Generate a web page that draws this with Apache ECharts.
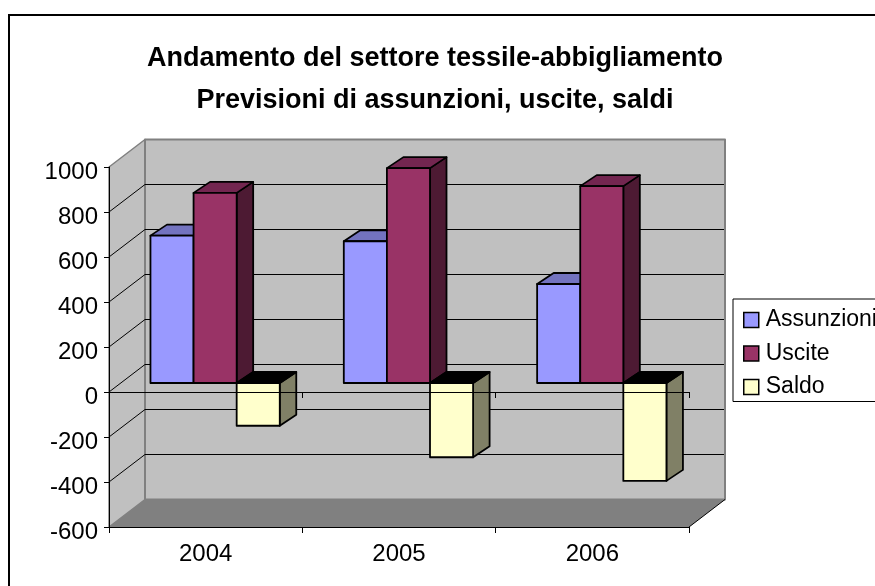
<!DOCTYPE html>
<html>
<head>
<meta charset="utf-8">
<title>Andamento del settore tessile-abbigliamento</title>
<script src="https://cdn.jsdelivr.net/npm/echarts@6/dist/echarts.min.js"></script>
<style>
	html, body { margin: 0; padding: 0; background: #fff; overflow: hidden; }
	#chart { width: 875px; height: 586px; }
</style>
</head>
<body>
<div id="chart"></div>
<script>
var categories = ['2004', '2005', '2006'];
var seriesNames = ['Assunzioni', 'Uscite', 'Saldo'];
var assunzioni = [655, 630, 440];
var uscite = [845, 955, 875];
var saldo = [-190, -330, -435];
var yTicks = [-600, -400, -200, 0, 200, 400, 600, 800, 1000];

var FONT = '"Liberation Sans", Arial, sans-serif';

// 3D look: offsets of the back wall and of the bars from the axis plane
var WALL_DX = 36, WALL_DY = -27.5;
var BAR_DY = -9, BAR_DEPTH_X = 16.5, BAR_DEPTH_Y = -11;
var BAR_W = 43.1, BAR_SHIFT = -55.2;

function poly(points, fill, stroke, lineWidth) {
	return {
		type: 'polygon',
		shape: { points: points },
		style: { fill: fill, stroke: stroke || 'none', lineWidth: lineWidth || 0, lineJoin: 'round' }
	};
}

function line(a, b, color, width) {
	return {
		type: 'line',
		shape: { x1: a[0], y1: a[1], x2: b[0], y2: b[1] },
		style: { stroke: color, lineWidth: width }
	};
}

function renderWalls(params, api) {
	var cs = params.coordSys;
	var x0 = cs.x, x1 = cs.x + cs.width, top = cs.y, bottom = cs.y + cs.height;
	var dx = WALL_DX, dy = WALL_DY;
	return {
		type: 'group',
		children: [
			poly([[x0, top], [x0 + dx, top + dy], [x0 + dx, bottom + dy], [x0, bottom]], '#c0c0c0', '#808080', 1.5),
			poly([[x0 + dx, top + dy], [x1 + dx, top + dy], [x1 + dx, bottom + dy], [x0 + dx, bottom + dy]], '#c0c0c0', '#808080', 2),
			poly([[x0, bottom], [x0 + dx, bottom + dy], [x1 + dx, bottom + dy], [x1, bottom]], '#808080'),
			line([x1, bottom], [x1 + dx, bottom + dy], '#000', 1)
		]
	};
}

function renderGrid(params, api) {
	var cs = params.coordSys;
	var v = api.value(0);
	var y = api.coord([0, v])[1];
	var x0 = cs.x, x1 = cs.x + cs.width;
	var back = y + WALL_DY;
	var kids = [];
	// top and bottom ticks have only the wall edge, no black line
	if (v > -600 && v < 1000) {
		kids.push(line([x0 + WALL_DX, back], [x1 + WALL_DX - 1, back], '#000', 1));
		kids.push(line([x0, y], [x0 + WALL_DX, back], '#000', 1));
	}
	return { type: 'group', children: kids };
}

function makeBarRenderer(index, faces) {
	return function (params, api) {
		var cat = api.value(0);
		var val = api.value(1);
		var center = api.coord([cat, 0])[0];
		var zero = api.coord([cat, 0])[1] + BAR_DY;
		var end = api.coord([cat, val])[1] + BAR_DY;
		var x = center + BAR_SHIFT + index * BAR_W;
		var w = BAR_W;
		var t = Math.min(zero, end), b = Math.max(zero, end);
		var dx = BAR_DEPTH_X, dy = BAR_DEPTH_Y;
		return {
			type: 'group',
			children: [
				poly([[x + w, t], [x + w + dx, t + dy], [x + w + dx, b + dy], [x + w, b]], faces.side, '#000', 1.8),
				poly([[x, t], [x + dx, t + dy], [x + w + dx, t + dy], [x + w, t]], faces.top, '#000', 1.8),
				poly([[x, t], [x + w, t], [x + w, b], [x, b]], faces.front, '#000', 1.8)
			]
		};
	};
}

function barData(values) {
	return values.map(function (v, i) { return [i, v]; });
}

var faces = [
	{ front: '#9999ff', top: '#7373bf', side: '#5c5c99' },
	{ front: '#993366', top: '#732650', side: '#4d1a33' },
	{ front: '#ffffcc', top: '#000000', side: '#808066' }
];
var values = [assunzioni, uscite, saldo];

var series = [
	{ type: 'custom', name: 'walls', z: 1, silent: true, data: [[0, 0]], renderItem: renderWalls, clip: false },
	{
		type: 'custom', name: 'grid3d', z: 2, silent: true, clip: false,
		data: yTicks.map(function (v) { return [v]; }),
		encode: { y: 0 },
		renderItem: renderGrid
	}
];
seriesNames.forEach(function (name, i) {
	series.push({
		type: 'custom',
		name: name,
		z: 3 + i,
		silent: true,
		clip: false,
		itemStyle: { color: faces[i].front },
		data: barData(values[i]),
		encode: { x: 0, y: 1 },
		renderItem: makeBarRenderer(i, faces[i])
	});
});

var chart = echarts.init(document.getElementById('chart'), null, { renderer: 'canvas' });
chart.setOption({
	animation: false,
	backgroundColor: '#fff',
	graphic: [{
		type: 'rect',
		z: -10,
		shape: { x: 9, y: 15, width: 900, height: 620 },
		style: { fill: '#fff', stroke: '#000', lineWidth: 2 }
	}],
	title: {
		text: 'Andamento del settore tessile-abbigliamento\nPrevisioni di assunzioni, uscite, saldi',
		left: 430,
		top: 33,
		textAlign: 'center',
		textStyle: { fontFamily: FONT, fontSize: 27, fontWeight: 'bold', color: '#000', lineHeight: 42, align: 'center' }
	},
	legend: {
		data: seriesNames,
		orient: 'vertical',
		left: 733,
		top: 299,
		padding: [9.5, 20, 3, 10],
		itemWidth: 15,
		itemHeight: 15,
		itemGap: 10.5,
		icon: 'rect',
		backgroundColor: '#fff',
		borderColor: '#000',
		borderWidth: 1,
		selectedMode: false,
		itemStyle: { borderColor: '#000', borderWidth: 1.5 },
		textStyle: { fontFamily: FONT, fontSize: 23, color: '#000', padding: [0, 0, 0, 2] }
	},
	grid: { left: 109, right: 186, top: 167, bottom: 59, containLabel: false },
	xAxis: [{
		type: 'category',
		data: categories,
		position: 'bottom',
		z: 20,
		axisLine: { onZero: true, lineStyle: { color: '#000', width: 1 } },
		axisTick: { show: true, length: 6, lineStyle: { color: '#000', width: 1 } },
		axisLabel: { show: false },
		splitLine: { show: false }
	}, {
		type: 'category',
		data: categories,
		position: 'bottom',
		z: 20,
		axisLine: { onZero: false, lineStyle: { color: '#000', width: 1 } },
		axisTick: { show: true, length: 6, lineStyle: { color: '#000', width: 1 } },
		axisLabel: { show: true, color: '#000', fontFamily: FONT, fontSize: 24, margin: 15 },
		splitLine: { show: false }
	}],
	yAxis: {
		type: 'value',
		min: -600,
		max: 1000,
		interval: 200,
		z: 20,
		axisLine: { show: true, lineStyle: { color: '#000', width: 1 } },
		axisTick: { show: true, length: 5, lineStyle: { color: '#000', width: 1 } },
		axisLabel: {
			margin: 11,
			formatter: function (v) { return '{t|' + v + '}'; },
			rich: { t: { color: '#000', fontFamily: FONT, fontSize: 24, padding: [11, 0, 0, 0] } }
		},
		splitLine: { show: false }
	},
	tooltip: { show: false },
	series: series
});
</script>
</body>
</html>
